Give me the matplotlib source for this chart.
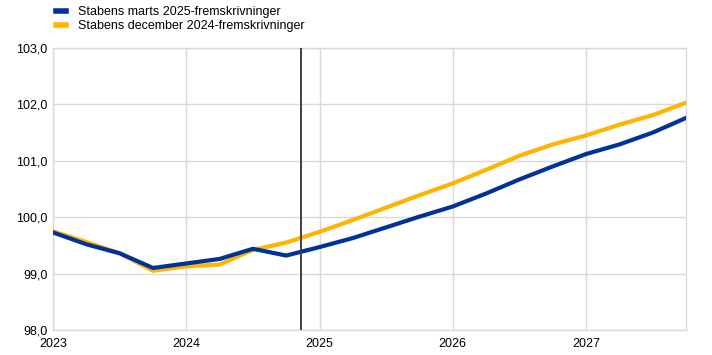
import matplotlib
matplotlib.use("Agg")
import matplotlib.pyplot as plt
import numpy as np

plt.rcParams['font.family'] = ['Liberation Sans', 'DejaVu Sans']

# quarterly, 2023Q1 .. 2027Q4
quarters = [2023 + 0.25 * i for i in range(20)]
marts_2025 = [99.73, 99.52, 99.36, 99.10, 99.18, 99.26, 99.44, 99.32, 99.47, 99.63,
              99.82, 100.01, 100.19, 100.42, 100.67, 100.90, 101.12, 101.29, 101.50, 101.76]
dec_2024 = [99.75, 99.56, 99.36, 99.05, 99.13, 99.16, 99.42, 99.55, 99.74, 99.95,
            100.17, 100.39, 100.60, 100.84, 101.09, 101.29, 101.45, 101.64, 101.81, 102.03]
labels = ["Stabens marts 2025-fremskrivninger", "Stabens december 2024-fremskrivninger"]
cutoff = 2024.86

fig = plt.figure(figsize=(7.12, 3.55), dpi=100)
ax = fig.add_axes([53/712, 25/355, 633/712, 282/355])

ax.plot(quarters, marts_2025, color="#003299", lw=3, label=labels[0], zorder=4)
ax.plot(quarters, dec_2024, color="#FFB400", lw=3, label=labels[1], zorder=3)
ax.axvline(cutoff, color="#404040", lw=1.4, zorder=5)

ax.set_xlim(2023, 2027.75)
ax.set_ylim(98, 103)
ax.set_xticks([2023, 2024, 2025, 2026, 2027])
ax.set_xticklabels(["2023", "2024", "2025", "2026", "2027"])
yt = np.arange(98, 103.5, 1)
ax.set_yticks(yt)
ax.set_yticklabels([f"{v:.1f}".replace(".", ",") for v in yt])
ax.tick_params(length=0, labelsize=9, colors="#000000", pad=4)
ax.tick_params(axis="x", pad=6)
ax.grid(True, color="#d9d9d9", lw=1)
ax.set_axisbelow(True)
for s in ax.spines.values():
    s.set_color("#d9d9d9")
    s.set_linewidth(1)

leg = fig.legend(loc="upper left", bbox_to_anchor=(50/712, 1.0), frameon=False,
                 fontsize=9, handlelength=0.8, handletextpad=0.9, labelspacing=0.15,
                 borderaxespad=0.1)
for h in leg.get_lines():
    h.set_linewidth(4)

fig.savefig("out.png", dpi=100)
